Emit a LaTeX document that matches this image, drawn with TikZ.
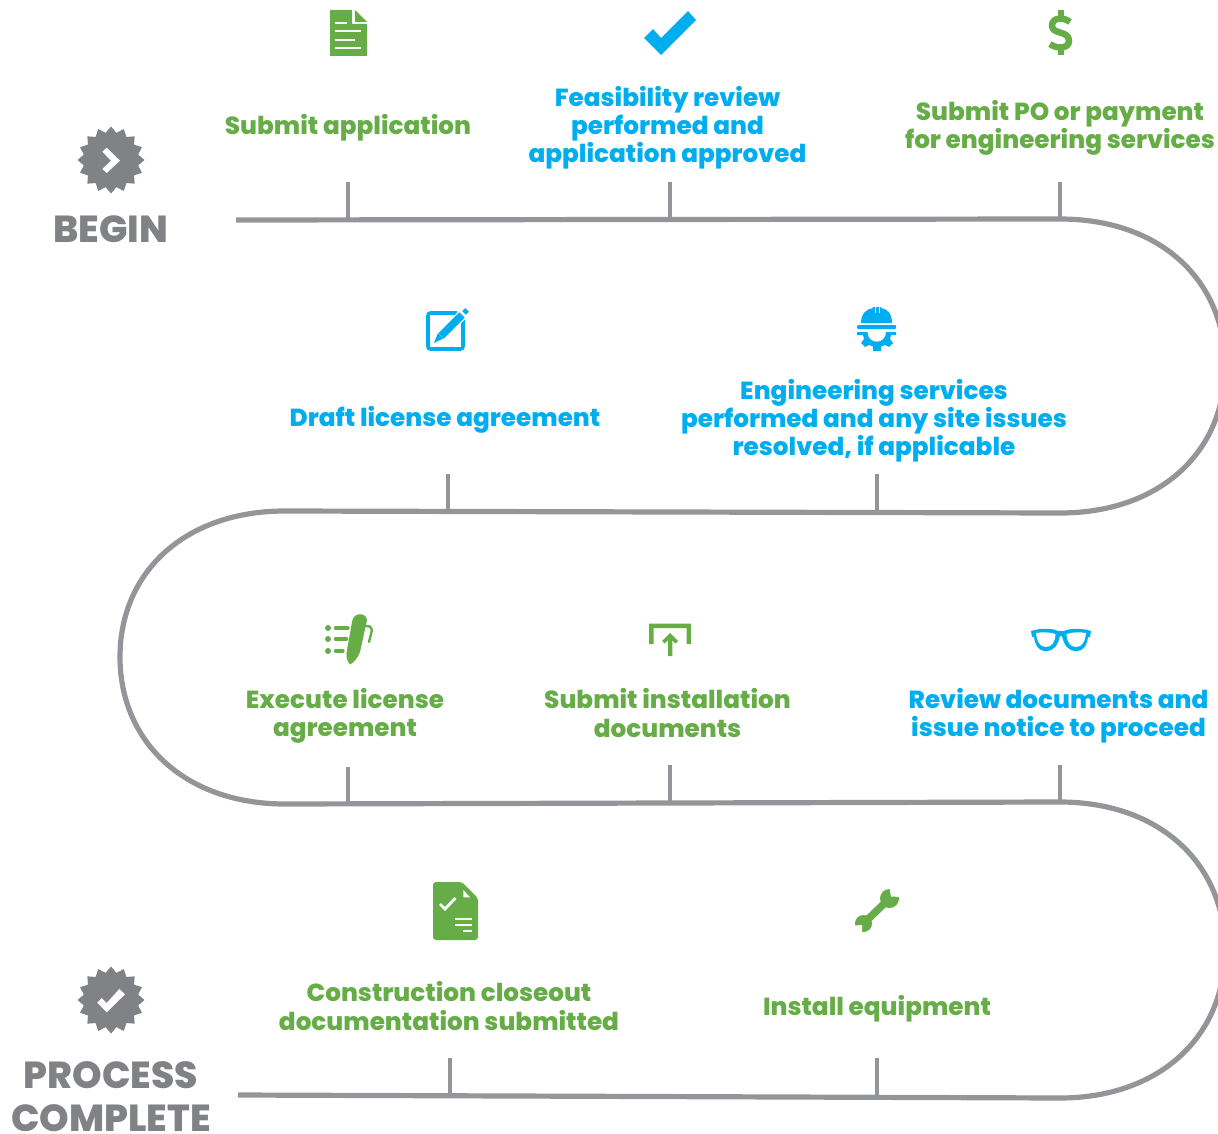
\documentclass[tikz,border=0pt]{standalone}
\usepackage{fontspec}
\setmainfont{Poppins}[BoldFont={Poppins ExtraBold}]
\usetikzlibrary{shapes.geometric}
\definecolor{gr}{HTML}{66AD47}
\definecolor{bl}{HTML}{00AEEF}
\definecolor{gy}{HTML}{808285}
\definecolor{ln}{HTML}{939598}
\tikzset{
 lab/.style={align=center,inner sep=0pt,font=\fontsize{24.7}{28.2}\selectfont\bfseries},
 grn/.style={lab,text=gr}, blu/.style={lab,text=bl},
 big/.style={align=center,inner sep=0pt,text=gy,font=\fontsize{37.6}{43}\selectfont\bfseries},
 tick/.style={draw=ln,line width=4.8pt},
 road/.style={draw=ln,line width=5.2pt},
 burst/.style={star,star points=16,star point ratio=1.21,fill=gy,minimum size=67pt,inner sep=0pt}
}
\begin{document}
\begin{tikzpicture}[x=1pt,y=-1pt]
\useasboundingbox (0,0) rectangle (1218,1134);
\begin{scope}
\clip (0,0) rectangle (1218,1134);
% road
\coordinate (r0) at (236,220);
\coordinate (r1) at (1060,219);
\coordinate (r2) at (1225,366);
\coordinate (r3) at (1060,513);
\coordinate (r4) at (285,511);
\coordinate (r5) at (120,657);
\coordinate (r6) at (285,804);
\coordinate (r7) at (1060,802);
\coordinate (r8) at (1225,950);
\coordinate (r9) at (1060,1098);
\coordinate (r10) at (238,1095);
\draw[road] (r0) -- (r1) .. controls (1160,219) and (1225,280) .. (r2)
 .. controls (1225,452) and (1160,513) .. (r3) -- (r4)
 .. controls (185,511) and (120,572) .. (r5)
 .. controls (120,742) and (185,804) .. (r6) -- (r7)
 .. controls (1160,802) and (1225,864) .. (r8)
 .. controls (1225,1036) and (1160,1098) .. (r9) -- (r10);
\end{scope}
% ticks
\foreach \n/\x/\t/\b in {a/348/182/220,b/670/182/220,c/1060/182/219,d/448/474/511,e/877/474/513,f/348/767/804,g/670/765/804,h/1060/765/802,i/450/1058/1095,j/877/1058/1097}{
 \coordinate (t\n) at (\x,\t); \coordinate (u\n) at (\x,\b);
 \draw[tick] (t\n) -- (u\n);
}
% labels
\node[grn] (la) at (348,128) {Submit application};
\node[blu] (lb) at (667.5,128) {Feasibility review\\performed and\\application approved};
\node[grn] (lc) at (1060,128) {Submit PO or payment\\for engineering services};
\node[blu] (ld) at (445,420) {Draft license agreement};
\node[blu] (le) at (874,420.5) {Engineering services\\performed and any site issues\\resolved, if applicable};
\node[grn] (lf) at (345,716) {Execute license\\agreement};
\node[grn] (lg) at (667.5,713) {Submit installation\\documents};
\node[blu] (lh) at (1058.5,716) {Review documents and\\issue notice to proceed};
\node[grn] (li) at (449,1006) {Construction closeout\\documentation submitted};
\node[grn] (lj) at (877,1009) {Install equipment};
\node[big] (begin) at (111,229) {BEGIN};
\node[big] (done) at (111,1096.5) {PROCESS\\COMPLETE};
% bursts
\node[burst] (b1) at (111,160) {};
\node[burst] (b2) at (111,1000) {};
\fill[white] (102.3,151.7) -- (106.7,147.7) -- (120,160.7) -- (106.7,173) -- (102.3,169) -- (111,160.7) -- cycle;
\fill[white] (97.3,1002.7) -- (101.7,998) -- (106.7,1003) -- (119.3,989) -- (125,994.3) -- (106.7,1012.3) -- cycle;
% doc icon
\fill[gr] (330,10) -- (352,10) -- (352,24) -- (367,24) -- (367,56) -- (330,56) -- cycle;
\fill[gr] (355,10) -- (367,22) -- (355,22) -- cycle;
\foreach \y/\e in {23/347,31/361,40/355,48/361}{\fill[white] (335,\y-1) rectangle (\e,\y+1);}
% check
\fill[bl] (644,38) -- (653,29) -- (661,38) -- (688,11) -- (696,20) -- (661,55) -- cycle;
% dollar
\draw[gr,line width=6.5pt] (1070,22) .. controls (1064,17) and (1052,17) .. (1052,25.5)
 .. controls (1052,35) and (1069,30) .. (1069,41) .. controls (1069,49) and (1056,49) .. (1050,44);
\draw[gr,line width=6pt] (1060.5,10.5) -- (1060.5,17) (1060.5,49) -- (1060.5,55);
% edit
\draw[bl,line width=3.6pt,rounded corners=2.5pt] (457,313) -- (428,313) -- (428,349) -- (463,349) -- (463,320);
\draw[white,line width=10pt] (440,337) -- (468,309);
\draw[bl,line width=7.5pt] (441,336) -- (462,315);
\draw[bl,line width=5pt] (464,313) -- (467,310);
\fill[bl] (434,343) -- (438,333) -- (443,338.5) -- cycle;
% helmet
\fill[bl] (861,323) .. controls (861,314) and (866,309) .. (873,308) -- (873,307) -- (881,307) -- (881,308)
 .. controls (888,309) and (892,314) .. (892,323) -- cycle;
\draw[white,line width=1pt] (875,307) -- (875,313) (879,307) -- (879,313);
\fill[bl,rounded corners=1pt] (857,325) rectangle (896,329);
\fill[bl] (857,332) -- (867.5,332) .. controls (867.5,345) and (886,345) .. (886,332) -- (896,332) -- (896,335) -- (891,335)
 -- (890,339) -- (893,343) -- (889,347) -- (885,345) -- (881,346.5) -- (881,351) -- (873,351) -- (873,346.5) -- (869,345) -- (865,347) -- (861,343) -- (864,339) -- (863,335) -- (857,335) -- cycle;
% pen list
\fill[gr] (352,622) .. controls (353,612) and (366,612) .. (367,620) -- (360,652) .. controls (358,658) and (353,663) .. (350,664.5) .. controls (346,660) and (346,655) .. (347,650) -- cycle;
\draw[gr,line width=2.4pt,line cap=round,line join=round] (365,626) -- (370,626.5) -- (372,630) -- (369,642);
\foreach \y/\e in {628/348,639/346.5,651/343}{
 \fill[gr] (328,\y) circle[radius=3];
 \draw[gr,line width=3.4pt,line cap=round] (335.5,\y) -- (\e,\y);
}
% upload
\fill[gr] (649,644) -- (649,623.5) -- (691,623.5) -- (691,644) -- (686.5,644) -- (686.5,628) -- (653.5,628) -- (653.5,644) -- cycle;
\fill[gr] (670,633) -- (678,641) -- (675.5,643.5) -- (672.3,640.5) -- (672.3,656) -- (668,656) -- (668,640.5) -- (664.5,643.5) -- (662,641) -- cycle;
% glasses
\fill[bl] (1031,631) .. controls (1040,628) and (1052,628) .. (1058,631) -- (1064,631) .. controls (1070,628) and (1082,628) .. (1091,631) -- (1090,637) -- (1088,637)
 .. controls (1087,645) and (1084,651) .. (1076,651) .. controls (1068,651) and (1064,645) .. (1062,636) -- (1060,636)
 .. controls (1058,645) and (1054,651) .. (1046,651) .. controls (1038,651) and (1035,645) .. (1034,637) -- (1032,637) -- cycle;
\fill[white] (1036,633) .. controls (1042,632) and (1050,632) .. (1055.5,634) .. controls (1055,642) and (1052,647) .. (1046,647) .. controls (1040,647) and (1037,642) .. (1036,633) -- cycle;
\fill[white] (1086,633) .. controls (1080,632) and (1072,632) .. (1066.5,634) .. controls (1067,642) and (1070,647) .. (1076,647) .. controls (1082,647) and (1085,642) .. (1086,633) -- cycle;
% closeout doc
\fill[gr,rounded corners=3pt] (433,882) -- (462,882) -- (478,898) -- (478,940) -- (433,940) -- cycle;
\fill[white] (463.3,890) -- (470,897.3) -- (463.3,897.3) -- cycle;
\draw[white,line width=2.8pt] (440,904) -- (445,909) -- (455.5,898);
\draw[white,line width=1.7pt] (455,919.3) -- (472,919.3) (455,925) -- (472,925) (463,930.7) -- (472,930.7);
% wrench
\draw[gr,line width=7.5pt] (864,923) -- (889,899);
\fill[gr] (889.5,898.5) circle[radius=9.5];
\fill[gr] (863.5,923.5) circle[radius=8.5];
\fill[white] (891,896.5) -- (889,885) -- (896,884) -- (903,892) -- (901,897) -- cycle;
\fill[white] (862,925) -- (850,926) -- (851,933) -- (858,939) -- (862,936) -- cycle;
\end{tikzpicture}
\end{document}
